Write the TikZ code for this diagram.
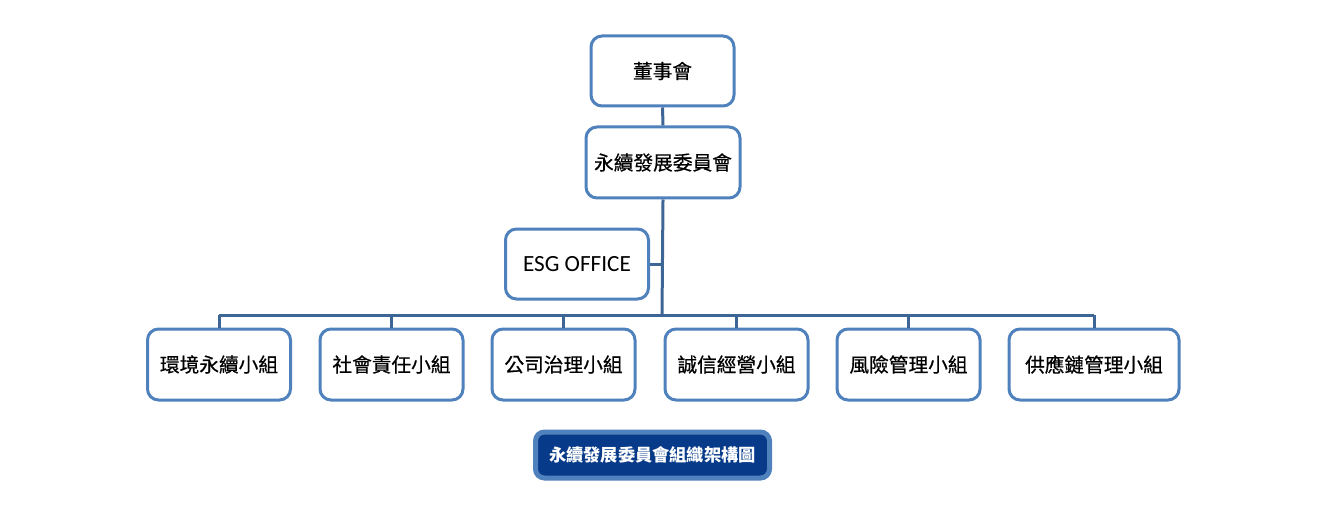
\documentclass[tikz,border=0pt]{standalone}
\usepackage{fontspec}
\newfontfamily\cjkfont[RawFeature={embolden=0.6}]{Noto Sans CJK TC}
\newfontfamily\cjkbold{Noto Sans CJK TC}
\newfontfamily\latinfont{Carlito}
\usetikzlibrary{positioning}
\definecolor{boxline}{HTML}{4F81BD}
\definecolor{linkline}{HTML}{3D6696}
\definecolor{titlefill}{HTML}{073B8A}
\tikzset{
  unitbox/.style={draw=boxline, line width=0.03cm, rounded corners=0.11cm, fill=white,
    minimum width=1.43cm, minimum height=0.70cm, inner sep=0pt,
    font=\cjkfont\fontsize{5.6}{6}\selectfont},
  link/.style={draw=linkline, line width=0.03cm},
  titlebox/.style={draw=boxline, line width=0.05cm, rounded corners=0.09cm, fill=titlefill,
    text=white, minimum width=2.34cm, minimum height=0.46cm, inner sep=0pt,
    font=\cjkbold\bfseries\fontsize{4.9}{6}\selectfont}
}
\begin{document}
\begin{tikzpicture}
% \clip (0,0) rectangle (13.29,5.05);
\useasboundingbox (0,0) rectangle (13.29,5.05);

% Top boxes
\node [unitbox] (board) at (6.625,4.34) {董事會};
\node [unitbox, minimum width=1.54cm, minimum height=0.71cm] (committee) at (6.63,3.425) {永續發展委員會};
\node [unitbox, font=\latinfont\fontsize{6.6}{7}\selectfont] (esg) at (5.77,2.41) {ESG OFFICE};

% Bus line
\coordinate (bus) at (6.62,1.90);
\coordinate (busleft) at (2.19,1.90);
\coordinate (busright) at (10.94,1.90);

% Working groups
\node [unitbox, minimum height=0.71cm] (env) at (2.19,1.405) {環境永續小組};
\node [unitbox, minimum height=0.71cm] (social) at (3.915,1.405) {社會責任小組};
\node [unitbox, minimum height=0.71cm] (gov) at (5.635,1.405) {公司治理小組};
\node [unitbox, minimum height=0.71cm] (ethic) at (7.365,1.405) {誠信經營小組};
\node [unitbox, minimum height=0.71cm] (risk) at (9.085,1.405) {風險管理小組};
\node [unitbox, minimum width=1.70cm, minimum height=0.71cm] (supply) at (10.94,1.405) {供應鏈管理小組};

% Connectors
\draw [link] (board.south) -- (committee.north);
\draw [link] (committee.south) -- (bus);
\draw [link] (esg.east) -- (esg.east -| bus);
\draw [link] (busleft) -- (busright);
\foreach \g in {env,social,gov,ethic,risk,supply}
  \draw [link] (\g.north) -- (\g.north |- bus);

% Caption
\node [titlebox] (title) at (6.525,0.50) {永續發展委員會組織架構圖};
\end{tikzpicture}
\end{document}
